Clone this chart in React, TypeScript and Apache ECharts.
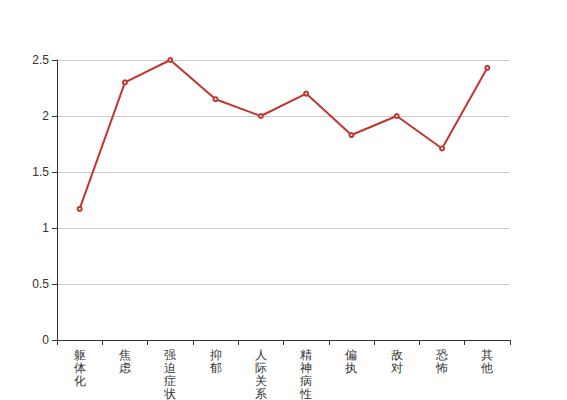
import React, { useEffect, useRef } from "react";
import * as echarts from "echarts";

const categories = ["躯体化", "焦虑", "强迫症状", "抑郁", "人际关系敏感", "精神病性", "偏执", "敌对", "恐怖", "其他"];
const values = [1.17, 2.3, 2.5, 2.15, 2.0, 2.2, 1.83, 2.0, 1.71, 2.43];

export default function App() {
  const ref = useRef<HTMLDivElement>(null);
  useEffect(() => {
    if (!ref.current) return;
    const chart = echarts.init(ref.current, undefined, { renderer: "svg" });
    chart.setOption({
      animation: false,
      grid: { left: 57, right: 57, top: 60, bottom: 60, containLabel: false, outerBoundsMode: "none" },
      xAxis: {
        type: "category",
        data: categories,
        boundaryGap: true,
        axisLine: { show: true, lineStyle: { color: "#333" } },
        axisTick: { show: true, alignWithLabel: false, lineStyle: { color: "#333" } },
        axisLabel: {
          color: "#333",
          fontSize: 12,
          lineHeight: 13,
          interval: 0,
          formatter: (v: string) => v.split("").join("\n"),
        },
        splitLine: { show: false },
      },
      yAxis: {
        type: "value",
        min: 0,
        max: 2.5,
        interval: 0.5,
        axisLine: { show: true, lineStyle: { color: "#333" } },
        axisTick: { show: true, lineStyle: { color: "#333" } },
        axisLabel: { color: "#333", fontSize: 12 },
        splitLine: { show: true, lineStyle: { color: "#ccc" } },
      },
      series: [
        {
          type: "line",
          data: values,
          symbol: "emptyCircle",
          symbolSize: 4,
          lineStyle: { color: "#c23531", width: 2 },
          itemStyle: { color: "#c23531" },
        },
      ],
    });
    return () => chart.dispose();
  }, []);
  return <div ref={ref} style={{ width: 567, height: 400, position: "absolute", left: 0, top: 0 }} />;
}
